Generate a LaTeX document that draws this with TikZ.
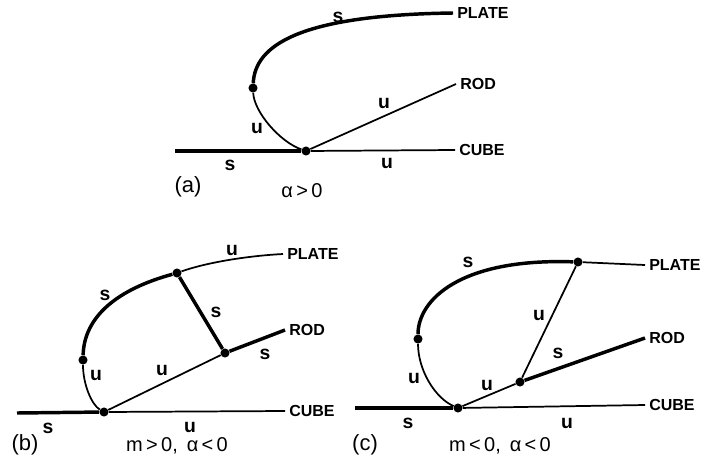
\documentclass[tikz,border=0pt]{standalone}
\usepackage{fontspec}
\setmainfont{Liberation Sans}
\usetikzlibrary{positioning}

\begin{document}
\begin{tikzpicture}[x=0.75pt, y=-0.75pt,
  thk/.style={line width=2.6pt},
  thn/.style={line width=1.3pt},
  dot/.style={circle, fill, inner sep=0pt, minimum size=6.8pt},
  br/.style={inner sep=2pt, font=\fontsize{12}{12}\selectfont\bfseries},
  lb/.style={inner sep=0pt, font=\fontsize{14.5}{14}\selectfont\bfseries},
  tag/.style={inner sep=0pt, font=\fontsize{16.5}{16}\selectfont},
  cnd/.style={inner sep=0pt, font=\fontsize{15}{15}\selectfont}]
\useasboundingbox (0,0) rectangle (709,468);

% (a)
\node[dot] (aJ) at (306,151) {};
\node[dot] (aT) at (253,88) {};
\coordinate (aL) at (175,151);
\coordinate (aC) at (455,150);
\coordinate (aR) at (456,84);
\coordinate (aP) at (453,13);
\draw[thk] (aL) -- (aJ);
\draw[thn] (aJ) -- (aC);
\draw[thn] (aJ) -- (aR);
\draw[thk] (aT) .. controls (255,45) and (300,15) .. (aP);
\draw[thn] (aT) .. controls (254,112) and (280,142) .. (aJ);
\node[br, right=1pt of aP] (aPn) {PLATE};
\node[br, right=1pt of aR] (aRn) {ROD};
\node[br, right=1pt of aC] (aCn) {CUBE};
\node[lb] (aS1) at (338,17) {s};
\node[lb] (aU1) at (384,103) {u};
\node[lb] (aU2) at (257,128) {u};
\node[lb] (aS2) at (230,165) {s};
\node[lb] (aU3) at (387,163) {u};
\node[tag] (aTag) at (188,187) {(a)};
\node[cnd] (aCnd) at (302,191) {α\,>\,0};

% (b)
\node[dot] (bJ) at (104,412) {};
\node[dot] (bT) at (83,360) {};
\node[dot] (bP) at (177,273) {};
\node[dot] (bR) at (225,353) {};
\coordinate (bL) at (17,413);
\coordinate (bC) at (285,411);
\coordinate (bRE) at (285,330);
\coordinate (bPE) at (283,254);
\draw[thk] (bL) -- (bJ);
\draw[thn] (bJ) -- (bC);
\draw[thn] (bJ) -- (bR);
\draw[thk] (bR) -- (bRE);
\draw[thk] (bP) -- (bR);
\draw[thn] (bP) .. controls (205,263) and (245,256) .. (bPE);
\draw[thk] (bT) .. controls (84,318) and (115,290) .. (bP);
\draw[thn] (bT) .. controls (83,385) and (92,405) .. (bJ);
\node[br, right=1pt of bPE] (bPn) {PLATE};
\node[br, right=1pt of bRE] (bRn) {ROD};
\node[br, right=1pt of bC] (bCn) {CUBE};
\node[lb] (bU1) at (232,250) {u};
\node[lb] (bS1) at (105,295) {s};
\node[lb] (bS2) at (216,312) {s};
\node[lb] (bS3) at (265,354) {s};
\node[lb] (bU2) at (96,375) {u};
\node[lb] (bU3) at (162,370) {u};
\node[lb] (bS4) at (48,428) {s};
\node[lb] (bU4) at (190,427) {u};
\node[tag] (bTag) at (25,445) {(b)};
\node[cnd] (bCnd) at (177,446) {m\,>\,0,\, α\,<\,0};

% (c)
\node[dot] (cJ) at (458,408) {};
\node[dot] (cT) at (418,339) {};
\node[dot] (cP) at (578,262) {};
\node[dot] (cR) at (520,382) {};
\coordinate (cL) at (355,408);
\coordinate (cC) at (645,405);
\coordinate (cRE) at (645,338);
\coordinate (cPE) at (645,265);
\draw[thk] (cL) -- (cJ);
\draw[thn] (cJ) -- (cC);
\draw[thn] (cJ) -- (cR);
\draw[thk] (cR) -- (cRE);
\draw[thn] (cR) -- (cP);
\draw[thn] (cP) -- (cPE);
\draw[thk] (cT) .. controls (418,300) and (460,258) .. (cP);
\draw[thn] (cT) .. controls (418,370) and (435,398) .. (cJ);
\node[br, right=1pt of cPE] (cPn) {PLATE};
\node[br, right=1pt of cRE] (cRn) {ROD};
\node[br, right=1pt of cC] (cCn) {CUBE};
\node[lb] (cS1) at (468,262) {s};
\node[lb] (cU1) at (539,315) {u};
\node[lb] (cS2) at (558,353) {s};
\node[lb] (cU2) at (414,378) {u};
\node[lb] (cU3) at (487,385) {u};
\node[lb] (cS3) at (408,423) {s};
\node[lb] (cU4) at (567,423) {u};
\node[tag] (cTag) at (365,445) {(c)};
\node[cnd] (cCnd) at (500,446) {m\,<\,0,\, α\,<\,0};
\end{tikzpicture}
\end{document}
